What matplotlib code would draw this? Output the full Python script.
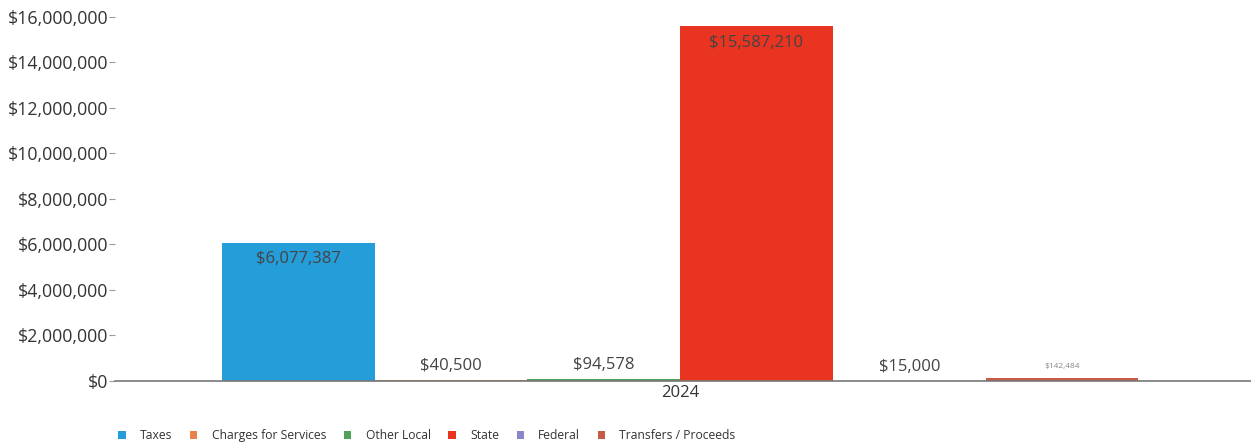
import numpy as np
import matplotlib.pyplot as plt
from matplotlib.patches import Patch
from matplotlib.ticker import FuncFormatter

plt.rcParams['font.family'] = ['Open Sans', 'DejaVu Sans']

# revenue by source, fiscal year 2024
year = '2024'
sources = ['Taxes', 'Charges for Services', 'Other Local', 'State', 'Federal', 'Transfers / Proceeds']
amounts = [6077387, 40500, 94578, 15587210, 15000, 142484]
colors = ['#249dd9', '#e8814c', '#4fa35a', '#e83420', '#8a86c8', '#c65a45']
inside_label = [True, False, False, True, False, False]

fig = plt.figure(figsize=(12.51, 4.44), dpi=100)
ax = fig.add_axes([0.092, 0.142, 0.908, 0.82])

n = len(sources)
group_width = 0.807
bw = group_width / n
xs = np.arange(n) * bw - group_width / 2 + bw / 2

bars = ax.bar(xs, amounts, width=bw, color=colors, edgecolor='none')

for x, v, inside in zip(xs, amounts, inside_label):
    txt = '${:,.0f}'.format(v)
    if inside:
        ax.annotate(txt, (x, v), xytext=(0, -12), textcoords='offset points',
                    ha='center', va='center', fontsize=12, color='#444444')
    elif v > 100000:
        ax.annotate(txt, (x, v), xytext=(0, 8), textcoords='offset points',
                    ha='center', va='center', fontsize=6, color='#888888')
    else:
        ax.annotate(txt, (x, v), xytext=(0, 10), textcoords='offset points',
                    ha='center', va='center', fontsize=12, color='#444444')

ax.set_xlim(-0.4974, 0.5026)
ax.set_ylim(0, 16000000)
ax.set_yticks(np.arange(0, 16000001, 2000000))
ax.yaxis.set_major_formatter(FuncFormatter(lambda v, p: '${:,.0f}'.format(v)))
ax.set_xticks([0])
ax.set_xticklabels([year])

for s in ['top', 'right', 'left']:
    ax.spines[s].set_visible(False)
ax.spines['bottom'].set_color('#777777')
ax.spines['bottom'].set_linewidth(1.2)
ax.tick_params(axis='y', length=4, width=0.8, color='#999999', labelsize=12.8,
               labelcolor='#333333', pad=1)
ax.tick_params(axis='x', length=0, labelsize=12, labelcolor='#333333', pad=3)

handles = [Patch(facecolor=c, label=s) for c, s in zip(colors, sources)]
fig.legend(handles=handles, loc='lower left', bbox_to_anchor=(0.086, -0.02), ncol=n,
           frameon=False, fontsize=8.7, handlelength=0.6, handleheight=0.6,
           handletextpad=1.2, columnspacing=1.45, labelcolor='#333333')

fig.savefig('out.png', dpi=100)
